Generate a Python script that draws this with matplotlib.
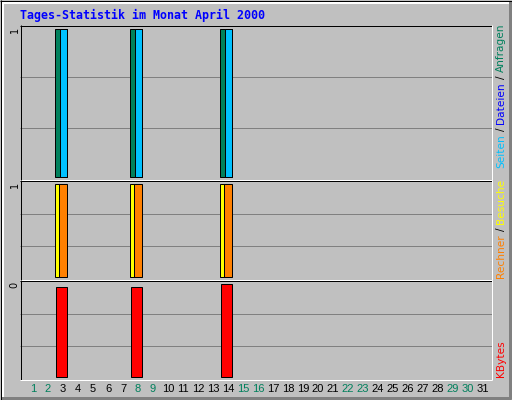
import matplotlib
matplotlib.use("Agg")
import matplotlib.pyplot as plt

# daily values, April 2000 (only days with traffic)
days = [3, 8, 14]
hits = [1, 1, 1]
files = [1, 1, 1]
pages = [1, 1, 1]
visits = [1, 1, 1]
sites = [1, 1, 1]
kbytes = [0.34, 0.34, 0.35]
all_days = list(range(1, 32))
weekend = [1, 2, 8, 9, 15, 16, 22, 23, 29, 30]
title = "Tages-Statistik im Monat April 2000"

BG = "#C0C0C0"
GRID = "#808080"
C_HITS = "#00805C"
C_FILES = "#0000FF"
C_PAGES = "#00C0FF"
C_VISITS = "#FFFF00"
C_SITES = "#FF8000"
C_KB = "#FF0000"
C_WEEKEND = "#00805C"

W, H = 512, 400
PX = 0.72  # one pixel in points

fig = plt.figure(figsize=(W / 100, H / 100), dpi=100, facecolor=BG)
deco = fig.add_axes([0, 0, 1, 1], zorder=0)
deco.set_xlim(0, W)
deco.set_ylim(H, 0)
deco.axis("off")


def hline(y, x0, x1, c):
    deco.plot([x0, x1 + 1], [y + 0.5, y + 0.5], color=c, lw=PX, solid_capstyle="butt")


def vline(x, y0, y1, c):
    deco.plot([x + 0.5, x + 0.5], [y0, y1 + 1], color=c, lw=PX, solid_capstyle="butt")


# outer 3d frame
for i in (1, 2):
    hline(i, 1, W - 3, "white")
    vline(i, 1, H - 3, "white")
for i in (H - 4, H - 3, H - 2):
    hline(i, 1, W - 2, GRID)
for i in (W - 4, W - 3, W - 2):
    vline(i, 1, H - 2, GRID)
hline(0, 0, W - 1, "black")
hline(H - 1, 0, W - 1, "black")
vline(0, 0, H - 1, "black")
vline(W - 1, 0, H - 1, "black")

deco.text(20, 15, title, color="#0000FF", family="DejaVu Sans Mono",
          weight="bold", fontsize=8.4, ha="left", va="center")

L, R = 20, 491
panels = [(25, 179), (180, 279), (280, 379)]


def make_panel(T, B, vmax):
    h = B - T
    pb, pt = 2, 4
    ax = fig.add_axes([L / W, 1 - B / H, (R - L) / W, h / H], zorder=1)
    ax.patch.set_alpha(0)
    for s in ax.spines.values():
        s.set_visible(False)
    ax.set_xlim((L - 18) / 15, (R - 18) / 15)
    span = vmax / (h - pb - pt)
    ax.set_ylim(-pb * span, vmax + pt * span)
    ax.set_yticks([])
    ax.set_xticks([])
    # grid + inset border
    for k in (1, 2):
        hline(round(T + k * (h - 1) / 3), L, R, GRID)
    hline(T, L, R, "black")
    vline(L, T, B, "black")
    hline(B, L, R, "white")
    vline(R, T, B, "white")
    return ax


def bars(ax, vals, off, width, color):
    ax.bar([d + off / 15 for d in days], vals, width=width / 15, color=color,
           edgecolor="black", linewidth=PX)


ax1 = make_panel(*panels[0], max(hits))
bars(ax1, hits, -4.5, 7, C_HITS)
bars(ax1, files, 0.5, 7, C_FILES)
bars(ax1, pages, 0.5, 7, C_PAGES)

ax2 = make_panel(*panels[1], max(visits))
bars(ax2, visits, -4.5, 7, C_VISITS)
bars(ax2, sites, 0.0, 7.4, C_SITES)

ax3 = make_panel(*panels[2], max(kbytes))
bars(ax3, kbytes, -1.7, 10.7, C_KB)

ax3.set_xticks(all_days)
ax3.set_xticklabels([str(d) for d in all_days], family="Liberation Sans", fontsize=8)
for lab, d in zip(ax3.get_xticklabels(), all_days):
    lab.set_color(C_WEEKEND if d in weekend else "black")
ax3.tick_params(axis="x", length=0, pad=3.5)

# max value at the left of each panel
for (T, B), vals in zip(panels, [hits, visits, kbytes]):
    deco.text(14.5, T + 2, str(int(max(vals))), rotation=90, ha="center", va="top",
              fontsize=7, color="black")


# vertical legends on the right
def vlabel(y, segments, anchor):
    kw = dict(rotation=90, ha="center", fontsize=7.6, family="DejaVu Sans")
    segs = segments if anchor == "bottom" else segments[::-1]
    va = "bottom" if anchor == "bottom" else "top"
    frac = 1 if anchor == "bottom" else 0
    gap = 2.4 if anchor == "bottom" else -2.4
    prev = deco.text(501, y, segs[0][0], color=segs[0][1], va=va, **kw)
    for txt, col in segs[1:]:
        prev = deco.annotate(txt, xy=(0.5, frac), xycoords=prev, xytext=(0, gap),
                             textcoords="offset points", color=col, va=va, **kw)


vlabel(24, [("Seiten", C_PAGES), ("/", "black"), ("Dateien", C_FILES),
            ("/", "black"), ("Anfragen", C_HITS)], "top")
vlabel(278, [("Rechner", C_SITES), ("/", "black"), ("Besuche", C_VISITS)], "bottom")
vlabel(377, [("KBytes", C_KB)], "bottom")

fig.savefig("out.png", dpi=100, facecolor=BG)
